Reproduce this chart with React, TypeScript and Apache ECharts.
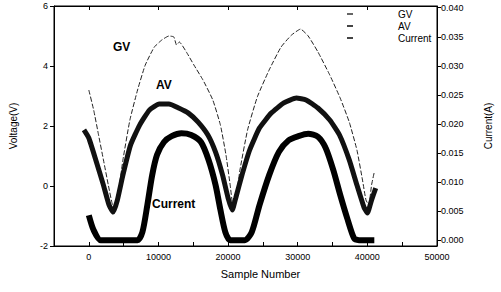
import React, { useEffect, useRef } from "react";
import * as echarts from "echarts";

// Sample number / value pairs
const gvSamples = [0, 700, 1400, 2100, 2800, 3400, 3800, 4200, 4900, 5900, 7000, 8100, 9400, 10500, 11500, 12200, 12600, 13000, 14000, 15100, 16400, 17800, 18900, 19700, 20300, 20700, 21100, 21700, 22800, 24200, 25900, 27600, 29100, 30400, 31500, 32900, 34600, 36100, 37400, 38500, 39300, 39800, 40200, 40600, 41000];
const gvValues = [3.2, 2.53, 1.7, 0.87, 0.03, -0.63, -0.73, -0.3, 0.87, 2.2, 3.2, 4.03, 4.63, 4.87, 5.0, 4.97, 4.7, 4.8, 4.47, 4.03, 3.53, 2.87, 2.03, 1.03, 0.03, -0.63, -0.47, 0.53, 1.87, 2.97, 3.87, 4.63, 5.03, 5.23, 5.0, 4.47, 3.7, 2.93, 2.13, 1.2, 0.2, -0.47, -0.63, 0.03, 0.47];

const avSamples = [-700, 0, 1000, 2100, 2900, 3500, 4100, 4900, 6000, 7300, 8700, 10100, 11500, 12900, 14300, 15700, 17100, 18200, 19200, 20000, 20600, 21100, 22000, 23100, 24500, 26200, 28000, 29800, 31200, 32900, 34600, 36000, 37400, 38500, 39500, 40000, 40600, 41200];
const avValues = [1.87, 1.6, 0.87, 0.03, -0.63, -0.87, -0.47, 0.37, 1.37, 2.03, 2.53, 2.73, 2.73, 2.6, 2.43, 2.13, 1.7, 1.13, 0.37, -0.4, -0.8, -0.4, 0.37, 1.2, 1.93, 2.43, 2.77, 2.93, 2.87, 2.6, 2.2, 1.7, 0.87, 0.03, -0.7, -0.9, -0.47, -0.07];

const curSamples = [0, 700, 1700, 3500, 7000, 7700, 8400, 9100, 9800, 10800, 11900, 13300, 14700, 16100, 17200, 18200, 18900, 19600, 20300, 22400, 23400, 24500, 25900, 27300, 28700, 30100, 31500, 32900, 34000, 35100, 36100, 37100, 38100, 38800, 41000];
const curValues = [0.0043, 0.0017, 0.0, 0.0, 0.0, 0.0014, 0.006, 0.0112, 0.0147, 0.0169, 0.0179, 0.0184, 0.0181, 0.0169, 0.0138, 0.0095, 0.0052, 0.0014, 0.0, 0.0, 0.0014, 0.006, 0.0112, 0.0152, 0.0172, 0.0179, 0.0183, 0.0178, 0.0159, 0.0121, 0.0078, 0.0038, 0.0003, 0.0, 0.0];

const xLabels = [0, 10000, 20000, 30000, 40000, 50000];
const xTicks = [-5000, 0, 5000, 10000, 15000, 20000, 25000, 30000, 35000, 40000, 45000, 50000];
const currentTicks = [0, 0.005, 0.01, 0.015, 0.02, 0.025, 0.03, 0.035, 0.04];

const zip = (a: number[], b: number[]) => a.map((v, i) => [v, b[i]]);

const FONT = "Liberation Sans, Arial, sans-serif";
const NOTE_FONT = "bold 12px 'Liberation Sans Narrow', 'Liberation Sans', sans-serif";

export default function App() {
  const ref = useRef<HTMLDivElement>(null);
  useEffect(() => {
    if (!ref.current) return;
    const chart = echarts.init(ref.current, undefined, { renderer: "svg" });
    chart.setOption({
      animation: false,
      backgroundColor: "#fff",
      grid: { left: 51, right: 59, top: 6, bottom: 46, show: true, borderColor: "#000", borderWidth: 1 },
      legend: {
        orient: "vertical",
        left: 342,
        top: 3,
        itemGap: 0,
        itemWidth: 6,
        itemHeight: 2,
        icon: "rect",
        textStyle: { fontSize: 10, fontFamily: FONT, color: "#000", padding: [0, 0, 0, 40], lineHeight: 12 },
        data: ["GV", "AV", "Current"],
      },
      xAxis: [
        {
          type: "value",
          min: -5000,
          max: 50000,
          position: "bottom",
          name: "Sample Number",
          nameLocation: "middle",
          nameGap: 22,
          nameTextStyle: { fontSize: 11, fontFamily: FONT, color: "#000", padding: [0, 0, 0, 30] },
          axisLine: { onZero: false, lineStyle: { color: "#000" } },
          axisTick: { inside: true, length: 4, customValues: xTicks, lineStyle: { color: "#000" } },
          axisLabel: {
            customValues: xLabels,
            fontSize: 9,
            fontFamily: FONT,
            color: "#000",
            margin: 6,
            formatter: (v: number) => String(v),
          },
          splitLine: { show: false },
        },
        {
          type: "value",
          min: -5000,
          max: 50000,
          position: "top",
          axisLine: { onZero: false, lineStyle: { color: "#000" } },
          axisTick: { inside: true, length: 4, customValues: xLabels, lineStyle: { color: "#000" } },
          axisLabel: { show: false },
          splitLine: { show: false },
        },
      ],
      yAxis: [
        {
          type: "value",
          min: -2,
          max: 6,
          interval: 2,
          name: "Voltage(V)",
          nameLocation: "middle",
          nameGap: 36,
          nameTextStyle: { fontSize: 10, fontFamily: FONT, color: "#000" },
          axisLine: { show: true, onZero: false, lineStyle: { color: "#000" } },
          axisTick: { show: true, length: 4, lineStyle: { color: "#000" } },
          axisLabel: { fontSize: 9, fontFamily: FONT, color: "#000", margin: 6 },
          splitLine: { show: false },
        },
        {
          type: "value",
          min: -0.001,
          max: 0.0403,
          position: "right",
          name: "Current(A)",
          nameLocation: "middle",
          nameGap: 46,
          nameRotate: 90,
          nameTextStyle: { fontSize: 10, fontFamily: FONT, color: "#000" },
          axisLine: { show: true, onZero: false, lineStyle: { color: "#000" } },
          axisTick: { show: true, length: 4, customValues: currentTicks, lineStyle: { color: "#000" } },
          axisLabel: {
            customValues: currentTicks,
            fontSize: 9,
            fontFamily: FONT,
            color: "#000",
            margin: 4,
            formatter: (v: number) => v.toFixed(3),
          },
          splitLine: { show: false },
        },
      ],
      series: [
        {
          name: "GV",
          type: "line",
          data: zip(gvSamples, gvValues),
          showSymbol: false,
          smooth: 0.15,
          lineStyle: { color: "#222", width: 1, type: [5, 2] },
          itemStyle: { color: "#666" },
        },
        {
          name: "AV",
          type: "line",
          data: zip(avSamples, avValues),
          showSymbol: false,
          smooth: 0.15,
          lineStyle: { color: "#111", width: 5 },
          itemStyle: { color: "#444" },
        },
        {
          name: "Current",
          type: "line",
          yAxisIndex: 1,
          data: zip(curSamples, curValues),
          showSymbol: false,
          smooth: 0.25,
          lineStyle: { color: "#000", width: 6 },
          itemStyle: { color: "#444" },
        },
      ],
      graphic: [
        { type: "text", left: 113, top: 41, style: { text: "GV", font: NOTE_FONT, fill: "#000" } },
        { type: "text", left: 156, top: 79, style: { text: "AV", font: NOTE_FONT, fill: "#000" } },
        { type: "text", left: 152, top: 198, style: { text: "Current", font: NOTE_FONT, fill: "#000" } },
      ],
    });
    return () => chart.dispose();
  }, []);
  return <div ref={ref} style={{ width: 501, height: 292, position: "absolute", left: 0, top: 0 }} />;
}
